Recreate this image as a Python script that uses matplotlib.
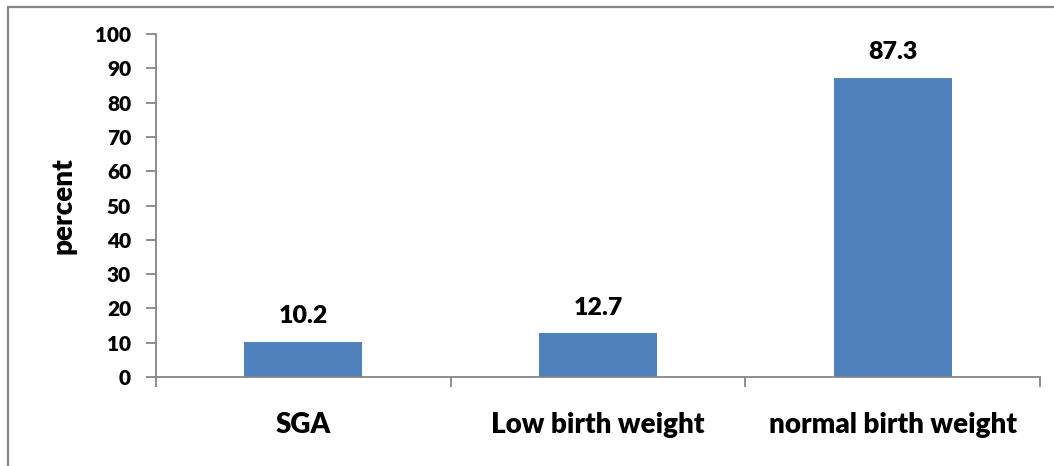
import matplotlib
matplotlib.use("Agg")
import matplotlib.pyplot as plt
from matplotlib.patches import Rectangle
import numpy as np

categories = ["SGA", "Low birth weight", "normal birth weight"]
values = [10.2, 12.7, 87.3]
yticks = [0, 10, 20, 30, 40, 50, 60, 70, 80, 90, 100]

plt.rcParams["font.family"] = ["Lato", "DejaVu Sans"]
WEIGHT = "heavy"
plt.rcParams["font.weight"] = WEIGHT

W, H = 1054, 466
fig = plt.figure(figsize=(W / 100, H / 100), dpi=100)
ax = fig.add_axes([156 / W, 1 - 377 / H, (1040 - 156) / W, (377 - 34) / H])

# outer chart frame (open on the right and bottom edges)
fig.patches.append(Rectangle((8 / W, -0.1), 1.2, (H - 7) / H + 0.1,
                             transform=fig.transFigure, fill=False,
                             edgecolor="#868686", linewidth=1.6))

x = np.arange(len(categories))
bars = ax.bar(x, values, width=0.4, color="#4F81BD")

for xi, v in zip(x, values):
    ax.annotate(f"{v}", (xi, v), xytext=(0, 13.5), textcoords="offset points",
                ha="center", va="baseline", fontsize=18, fontweight=WEIGHT,
                color="black")

ax.set_xlim(-0.5, len(categories) - 0.5)
ax.set_ylim(0, 100)
ax.set_yticks(yticks)
ax.set_yticklabels([str(t) for t in yticks], fontsize=15, fontweight=WEIGHT)
ax.set_xticks(x)
ax.set_xticklabels(categories, fontsize=20, fontweight=WEIGHT)
ax.tick_params(axis="x", length=0, pad=25)
ax.set_xticks(np.arange(-0.5, len(categories)), minor=True)
ax.tick_params(axis="x", which="minor", length=7, width=1.3, color="#868686",
               direction="out")
ax.tick_params(axis="y", length=7, width=1.3, color="#868686", direction="out", pad=11)

for side in ["top", "right"]:
    ax.spines[side].set_visible(False)
for side in ["left", "bottom"]:
    ax.spines[side].set_color("#868686")
    ax.spines[side].set_linewidth(1.3)

ax.set_ylabel("percent", fontsize=20, fontweight=WEIGHT, labelpad=13)

fig.savefig("out.png", dpi=100)
